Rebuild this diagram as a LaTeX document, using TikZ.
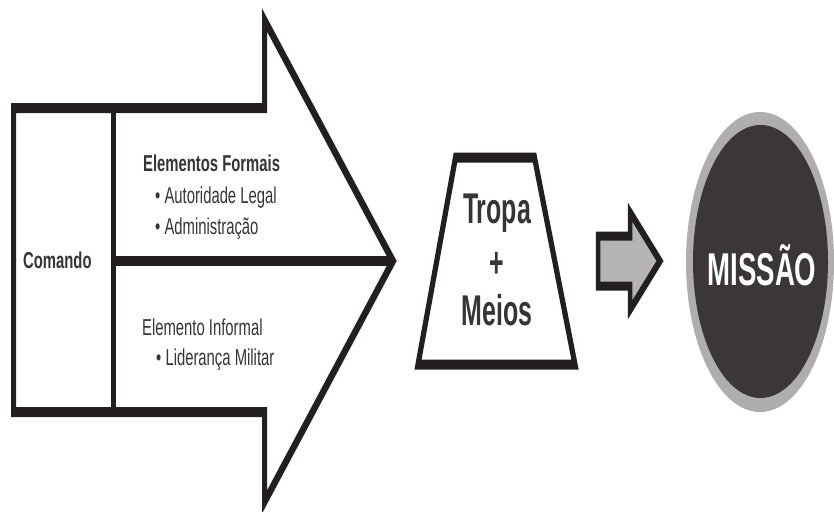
\documentclass[tikz,border=0pt]{standalone}
\usepackage{fontspec}
\setmainfont{Liberation Sans}
\newfontfamily\smallfont[FakeStretch=0.645]{Liberation Sans}
\newfontfamily\bigfont[FakeStretch=0.58]{Liberation Sans}
\newfontfamily\missaofont[FakeStretch=0.6]{Liberation Sans}
\definecolor{inkblack}{HTML}{231F20}
\definecolor{textgray}{HTML}{353535}
\definecolor{arrowgray}{HTML}{B5B5B5}
\definecolor{ringgray}{HTML}{AEAEAE}
\definecolor{missaodark}{HTML}{3B3637}

\begin{document}
\begin{tikzpicture}[x=1pt, y=-1pt,
    outline/.style={draw=inkblack, line width=10pt, line join=miter, fill=white},
    smalltext/.style={text=textgray, inner sep=0pt, anchor=base west, font=\smallfont\fontsize{23}{27}\selectfont},
    smallbold/.style={smalltext, font=\smallfont\bfseries\fontsize{23}{27}\selectfont},
    bigtext/.style={text=textgray, inner sep=0pt, anchor=base, font=\bigfont\bfseries\fontsize{43}{50}\selectfont}]
    \useasboundingbox[fill=white] (0,0) rectangle (834,511);

    \begin{scope}[transform canvas={xscale=0.5}, x=2pt]
        %big arrow: Comando + elements
        \filldraw[outline] (13.5,108) -- (264.5,108) -- (264.5,20) -- (393,261) -- (264.5,502) -- (264.5,412) -- (13.5,412) -- cycle;
        \draw[outline] (113.5,108) -- (113.5,412);
        \draw[outline] (113.5,261) -- (390,261);

        %Tropa + Meios
        \filldraw[outline] (455.5,157.5) -- (534.5,157.5) -- (575,364.5) -- (418,364.5) -- cycle;

        %small arrow
        \filldraw[outline, fill=arrowgray, line width=9pt] (598,236) -- (630,236) -- (630,212) -- (660,261) -- (630,310) -- (630,286) -- (598,286) -- cycle;
    \end{scope}

    %Missao
    \fill[ringgray] (760,262) ellipse [x radius=74pt, y radius=150pt];
    \fill[missaodark] (760.5,261.5) ellipse [x radius=67.5pt, y radius=136.5pt];

    \node[smallbold] (comando) at (23,268) {Comando};
    \node[smallbold] (formais) at (143,171) {Elementos Formais};
    \node[smalltext] (autoridade) at (155,203) {\textbullet\ Autoridade Legal};
    \node[smalltext] (administracao) at (155,234) {\textbullet\ Administração};
    \node[smalltext] (informal) at (142,335) {Elemento Informal};
    \node[smalltext] (lideranca) at (156,365) {\textbullet\ Liderança Militar};

    \node[bigtext] (tropa) at (497,223) {Tropa};
    \node[bigtext] (mais) at (497,277) {+};
    \node[bigtext] (meios) at (497,325) {Meios};
    \node[bigtext, text=white, font=\missaofont\bfseries\fontsize{46}{52}\selectfont] (missao) at (762,285) {MISSÃO};
\end{tikzpicture}
\end{document}
